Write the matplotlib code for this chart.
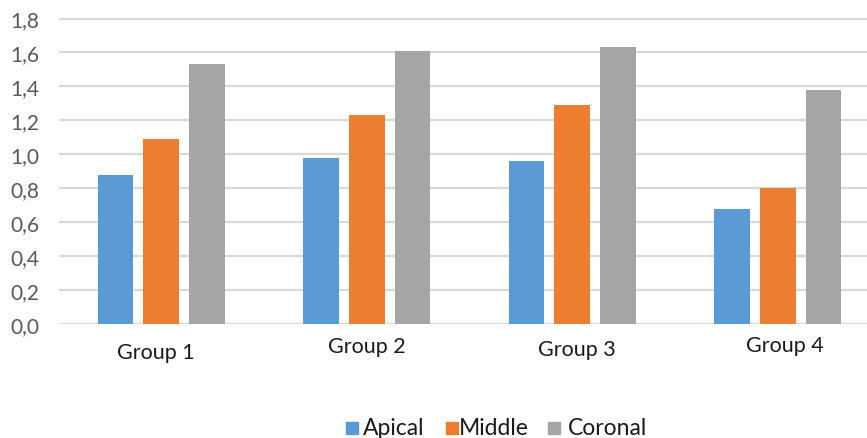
import matplotlib
matplotlib.use("Agg")
import matplotlib.pyplot as plt
import numpy as np
from matplotlib.ticker import FuncFormatter
from matplotlib.patches import Rectangle
from matplotlib.transforms import blended_transform_factory

groups = ["Group 1", "Group 2", "Group 3", "Group 4"]
series_names = ["Apical", "Middle", "Coronal"]
apical = [0.88, 0.98, 0.96, 0.68]
middle = [1.09, 1.23, 1.29, 0.80]
coronal = [1.53, 1.61, 1.63, 1.38]
colors = ["#5B9BD5", "#ED7D31", "#A5A5A5"]

plt.rcParams["font.family"] = ["Lato", "DejaVu Sans"]

W, H = 867, 439
fig = plt.figure(figsize=(W / 100, H / 100), dpi=100)

# plot area in pixels
left_px, bottom_px = 58.5, 325
cat_px = 205.5
unit_px = 169.7
ytop = 1.81
ax = fig.add_axes([left_px / W, (H - bottom_px) / H,
                   4 * cat_px / W, ytop * unit_px / H])

x = np.arange(len(groups))
offset = 0.222
width = 0.173
for i, (vals, c) in enumerate(zip([apical, middle, coronal], colors)):
    ax.bar(x + (i - 1) * offset, vals, width=width, color=c, zorder=3)

ax.set_xlim(-0.5, 3.5)
ax.set_ylim(0, ytop)
ax.set_yticks(np.arange(0, 1.81, 0.2))
ax.yaxis.set_major_formatter(FuncFormatter(lambda v, p: f"{v:.1f}".replace(".", ",")))
ax.grid(axis="y", color="#D9D9D9", linewidth=1.6, zorder=0)
for s in ax.spines.values():
    s.set_visible(False)
ax.tick_params(axis="y", length=0, pad=14, labelsize=15, labelcolor="#595959")
ax.set_xticks([])

# category labels, baseline positions in pixels with slight per-label shifts
label_dx = [-5, 0, 5, 7]
label_base = [359, 353, 356.5, 352.5]
px = fig.dpi_scale_trans + matplotlib.transforms.Affine2D()
for xi, name, dx, yb in zip(x, groups, label_dx, label_base):
    tr = blended_transform_factory(ax.transData, fig.transFigure)
    t = ax.text(xi, 1 - yb / H, name, transform=tr, ha="center", va="baseline",
                fontsize=15.5, color="#1a1a1a")
    t.set_transform(tr + matplotlib.transforms.ScaledTranslation(dx / 100, 0, fig.dpi_scale_trans))

# legend drawn below the plot
sq_x = [346, 446, 548]
txt_x = [363, 459, 568]
sq_top, sq_size = 423, 12
base_y = 435.5
for c, name, sx, tx in zip(colors, series_names, sq_x, txt_x):
    fig.patches.append(Rectangle((sx / W, 1 - (sq_top + sq_size) / H), sq_size / W, sq_size / H,
                                 transform=fig.transFigure, color=c))
    fig.text(tx / W, 1 - base_y / H, name, ha="left", va="baseline",
             fontsize=16.5, color="#1a1a1a")

fig.savefig("out.png", dpi=100)
